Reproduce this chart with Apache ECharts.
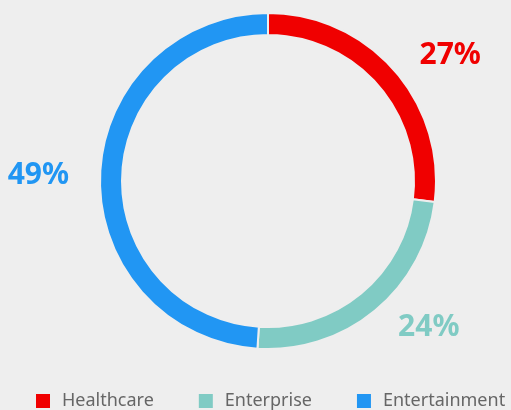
<!DOCTYPE html>
<html>
<head>
<meta charset="utf-8">
<script src="https://cdn.jsdelivr.net/npm/echarts@6/dist/echarts.min.js"></script>
<style>
  html, body { margin: 0; padding: 0; background: #eeeeee; }
  #chart { width: 511px; height: 410px; }
</style>
</head>
<body>
<div id="chart"></div>
<script>
// segment names, shares and colours
const categories = ['Healthcare', 'Enterprise', 'Entertainment'];
const values = [27, 24, 49];
const colors = ['#f00000', '#80cbc4', '#2196f3'];

const chart = echarts.init(document.getElementById('chart'));

const option = {
  backgroundColor: '#eeeeee',
  animation: false,
  color: colors,
  legend: {
    data: categories,
    left: 34,
    top: 392,
    width: 477,
    padding: 0,
    itemWidth: 16,
    itemHeight: 16,
    itemGap: 43,
    icon: 'rect',
    textStyle: {
      color: '#666666',
      fontSize: 18,
      padding: [0, 0, 0, 6],
      fontFamily: 'Noto Sans'
    }
  },
  series: [
    {
      type: 'pie',
      center: [268, 181],
      radius: [146, 168],
      startAngle: 90,
      clockwise: true,
      avoidLabelOverlap: false,
      itemStyle: {
        borderColor: '#eeeeee',
        borderWidth: 2
      },
      label: {
        show: true,
        position: 'outside',
        formatter: '{d}%',
        fontSize: 30,
        fontWeight: 'bold',
        fontFamily: 'Noto Sans',
        color: 'inherit'
      },
      labelLine: {
        show: false,
        length: 22,
        length2: 4
      },
      emphasis: { disabled: true },
      data: categories.map((name, i) => ({
        name: name,
        value: values[i],
        label: { color: colors[i] }
      }))
    }
  ]
};

chart.setOption(option);
</script>
</body>
</html>
